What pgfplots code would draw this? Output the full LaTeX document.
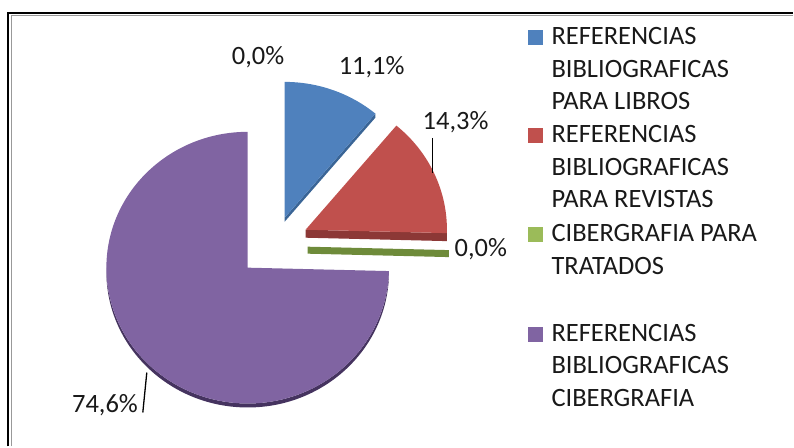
\documentclass[border=0pt]{standalone}
\usepackage{fontspec}
\setmainfont{Carlito}
\usepackage{pgfplots}
\usepackage{pgfplotstable}
\pgfplotsset{compat=1.18}
\definecolor{cblue}{HTML}{4F81BD}
\definecolor{cblueD}{HTML}{3A6596}
\definecolor{cred}{HTML}{C0504D}
\definecolor{credD}{HTML}{8C3836}
\definecolor{cgreen}{HTML}{9BBB59}
\definecolor{cgreenD}{HTML}{6E8B3A}
\definecolor{cpurple}{HTML}{8064A2}
\definecolor{cpurpleD}{HTML}{45335F}
\pgfplotstableread{
slice value
Libros 11.1
Revistas 14.3
Tratados 0.0
Blank 0.0
Cibergrafia 74.6
}\piedata
\pgfplotstablegetelem{0}{value}\of\piedata \let\vLib\pgfplotsretval
\pgfplotstablegetelem{1}{value}\of\piedata \let\vRev\pgfplotsretval
\pgfplotstablegetelem{2}{value}\of\piedata \let\vTra\pgfplotsretval
\pgfplotstablegetelem{3}{value}\of\piedata \let\vBla\pgfplotsretval
\pgfplotstablegetelem{4}{value}\of\piedata \let\vCib\pgfplotsretval
\pgfmathsetmacro\aA{90}
\pgfmathsetmacro\aB{\aA-3.6*\vLib}
\pgfmathsetmacro\aC{\aB-3.6*\vRev}
\pgfmathsetmacro\aD{\aC-3.6*\vTra-3.6*\vBla}
\pgfmathsetmacro\aE{\aD-3.6*\vCib}
\pgfmathsetmacro\aDD{\aD+360}
\def\rx{141.5pt}
\def\ry{136pt}
\newcommand\pct[1]{\pgfmathprintnumber[fixed,precision=1,fixed zerofill,use comma,assume math mode=true]{#1}\%}
\begin{document}
\begin{tikzpicture}
\begin{axis}[scale only axis, width=794pt, height=447pt,
  xmin=0, xmax=794, ymin=0, ymax=447, hide axis, clip=false]
\path (axis cs:0,0) rectangle (axis cs:794,447);
% frame
\draw[line width=2pt, black] (axis cs:8.5,0) -- (axis cs:8.5,433.8) -- (axis cs:794,433.8);
\draw[line width=1.2pt, black!40] (axis cs:11.2,0) -- (axis cs:11.2,431.8) -- (axis cs:794,431.8);
% purple slice
\begin{scope}[shift={(axis cs:248,179)}]
  \fill[cpurpleD] (180:\rx\space and \ry) arc[start angle=180, end angle=\aDD, x radius=\rx, y radius=\ry]
     -- ++(0,-4pt) arc[start angle=\aDD, end angle=180, x radius=\rx, y radius=\ry] -- cycle;
  \fill[cpurple] (0,0) -- (\aD:\rx\space and \ry) arc[start angle=\aD, end angle=\aE, x radius=\rx, y radius=\ry] -- cycle;
\end{scope}
% blue slice
\begin{scope}[shift={(axis cs:285,229)}]
  \fill[cblueD] (0,0) -- (\aB:\rx\space and \ry) -- ++(0,-4pt) -- (0,-4pt) -- cycle;
  \fill[cblue] (0,0) -- (\aA:\rx\space and \ry) arc[start angle=\aA, end angle=\aB, x radius=\rx, y radius=\ry] -- cycle;
\end{scope}
% red slice
\begin{scope}[shift={(axis cs:306,217)}]
  \fill[credD] (0,0) -- (\aC:\rx\space and \ry) -- ++(0,-8pt) -- (0,-8pt) -- cycle;
  \fill[cred] (0,0) -- (\aB:\rx\space and \ry) arc[start angle=\aB, end angle=\aC, x radius=\rx, y radius=\ry] -- cycle;
\end{scope}
% green (zero) slice
\begin{scope}[shift={(axis cs:308,200)}]
  \fill[cgreenD] (0,0) -- (\aD:\rx\space and \ry) -- ++(0,-7pt) -- (0,-7pt) -- cycle;
\end{scope}
% data labels
\begin{scope}[every node/.style={inner sep=0pt, anchor=base west, text=black!90, font=\fontsize{26.5pt}{32.6pt}\selectfont}]
\node at (axis cs:232,382) {\pct{\vBla}};
\node at (axis cs:339,372) {\pct{\vLib}};
\node at (axis cs:423,317) {\pct{\vRev}};
\node at (axis cs:455,190) {\pct{\vTra}};
\node at (axis cs:72,34) {\pct{\vCib}};
\end{scope}
\draw[line width=1.3pt] (axis cs:433,309) -- (axis cs:433,274);
\draw[line width=1.3pt] (axis cs:143,34) -- (axis cs:147,74);
% legend
\begin{scope}[every node/.style={inner sep=0pt, anchor=base west, text=black!90, font=\fontsize{26.5pt}{32.6pt}\selectfont}]
\fill[cblue] (axis cs:529,402) rectangle (axis cs:544,417);
\node at (axis cs:552,402) {REFERENCIAS};
\node at (axis cs:552,369.5) {BIBLIOGRAFICAS};
\node at (axis cs:552,337) {PARA LIBROS};
\fill[cred] (axis cs:529,304) rectangle (axis cs:544,319);
\node at (axis cs:552,304) {REFERENCIAS};
\node at (axis cs:552,271.5) {BIBLIOGRAFICAS};
\node at (axis cs:552,239) {PARA REVISTAS};
\fill[cgreen] (axis cs:529,205) rectangle (axis cs:544,220);
\node at (axis cs:552,205) {CIBERGRAFIA PARA};
\node at (axis cs:552,172) {TRATADOS};
\fill[cpurple] (axis cs:529,105) rectangle (axis cs:544,120);
\node at (axis cs:552,105) {REFERENCIAS};
\node at (axis cs:552,73) {BIBLIOGRAFICAS};
\node at (axis cs:552,40) {CIBERGRAFIA};
\end{scope}
\end{axis}
\end{tikzpicture}
\end{document}
